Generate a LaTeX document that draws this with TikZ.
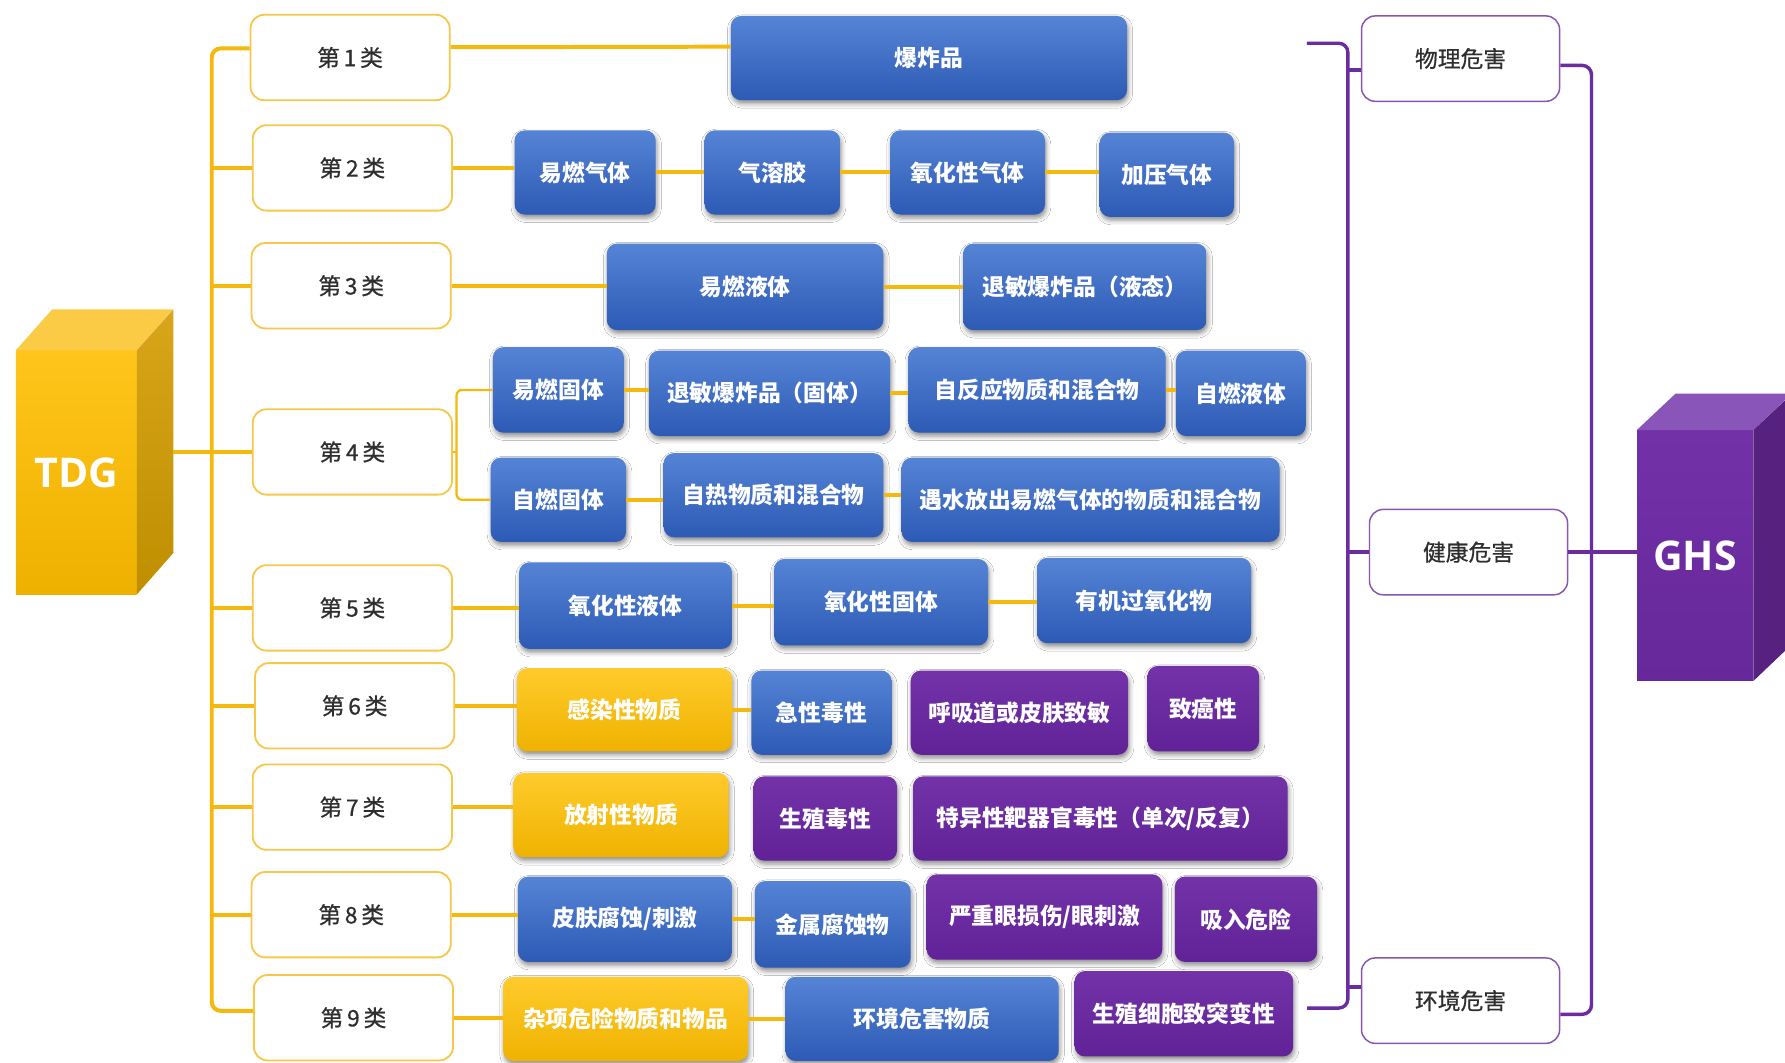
\documentclass[tikz,border=0pt]{standalone}
\usepackage{fontspec}
\setmainfont{Noto Sans CJK SC}
\newfontfamily\latinbold{Open Sans}
\newfontfamily\labelfont[FakeBold=0.6]{Noto Sans CJK SC}
\usetikzlibrary{shadows.blur,calc}

\definecolor{ylw}{HTML}{F5B80C}
\definecolor{ylwborder}{HTML}{F5C74A}
\definecolor{pur}{HTML}{6A2C9E}
\definecolor{bluetop}{HTML}{5584D6}
\definecolor{bluebot}{HTML}{2D5AB4}
\definecolor{yboxtop}{HTML}{FFCB2C}
\definecolor{yboxbot}{HTML}{EFB200}
\definecolor{pboxtop}{HTML}{7332A8}
\definecolor{pboxbot}{HTML}{612298}
\definecolor{txtgray}{HTML}{2E2E2E}
\definecolor{tdgtop}{HTML}{FBCB45}
\definecolor{tdgfronttop}{HTML}{FFC51A}
\definecolor{tdgfrontbot}{HTML}{EEB100}
\definecolor{tdgsidetop}{HTML}{D9A51A}
\definecolor{tdgsidebot}{HTML}{BF8F00}
\definecolor{ghstop}{HTML}{8A55B8}
\definecolor{ghsfronttop}{HTML}{7331A8}
\definecolor{ghsfrontbot}{HTML}{66289A}
\definecolor{ghsside}{HTML}{56217F}

\tikzset{
 box/.style={rounded corners=9pt, minimum height=74pt, text=white,
   font=\fontsize{20}{23}\selectfont\bfseries, inner sep=2pt,
   blur shadow={shadow xshift=1pt, shadow yshift=-3pt, shadow blur radius=4pt, shadow opacity=45}},
 bbox/.style={box, top color=bluetop, bottom color=bluebot},
 ybox/.style={box, top color=yboxtop, bottom color=yboxbot},
 pbox/.style={box, top color=pboxtop, bottom color=pboxbot},
 cat/.style={draw=ylwborder, line width=1.6pt, fill=white, rounded corners=12pt,
   minimum width=175pt, minimum height=75pt, text=txtgray, font=\labelfont\fontsize{20}{22}\selectfont},
 haz/.style={draw=pur!80, line width=1.3pt, fill=white, rounded corners=12pt,
   minimum width=174pt, minimum height=75pt, text=txtgray, font=\labelfont\fontsize{20}{22}\selectfont},
 yline/.style={draw=ylw, line width=3.5pt},
 pline/.style={draw=pur, line width=3pt},
 cube/.style={inner sep=0pt, text=white, font={\latinbold\bfseries\fontsize{36}{40}\selectfont}},
}

\begin{document}
\begin{tikzpicture}[x=1pt,y=-1pt]
\useasboundingbox[fill=white] (0,0) rectangle (1568,933);

% ---------- TDG cube ----------
\node[cube, minimum width=106pt, minimum height=214pt, top color=tdgfronttop, bottom color=tdgfrontbot] (tdg) at (67,415) {TDG};
\fill[tdgtop] (tdg.north west) -- ++(32,-36) -- ++(106,0) -- (tdg.north east) -- cycle;
\shade[top color=tdgsidetop, bottom color=tdgsidebot] (tdg.north east) -- ++(32,-36) -- ++(0,214) -- (tdg.south east) -- cycle;

% ---------- category boxes ----------
\node[cat] (c1) at (307.5,50.5) {第\,1\,类};
\node[cat] (c2) at (309.5,147.5) {第\,2\,类};
\node[cat] (c3) at (308.5,251) {第\,3\,类};
\node[cat] (c4) at (309.5,397) {第\,4\,类};
\node[cat] (c5) at (309.5,534) {第\,5\,类};
\node[cat] (c6) at (311.5,620) {第\,6\,类};
\node[cat] (c7) at (309.5,709) {第\,7\,类};
\node[cat] (c8) at (308.5,803.5) {第\,8\,类};
\node[cat] (c9) at (310.5,894) {第\,9\,类};

% ---------- content boxes ----------
\node[bbox, minimum width=348pt] (b1) at (816,51) {爆炸品};

\node[bbox, minimum width=124pt] (b21) at (514,151.5) {易燃气体};
\node[bbox, minimum width=119pt] (b22) at (678.5,151.5) {气溶胶};
\node[bbox, minimum width=136pt] (b23) at (850,151.5) {氧化性气体};
\node[bbox, minimum width=118pt] (b24) at (1025,153.5) {加压气体};

\node[bbox, minimum width=243pt, minimum height=76pt] (b31) at (654.5,252) {易燃液体};
\node[bbox, minimum width=214pt, minimum height=76pt] (b32) at (953,252) {退敏爆炸品（液态）};

\node[bbox, minimum width=115pt, minimum height=75pt] (b41) at (490.5,342.5) {易燃固体};
\node[bbox, minimum width=212pt, minimum height=75pt] (b42) at (676,345.5) {退敏爆炸品（固体）};
\node[bbox, minimum width=226pt, minimum height=75pt] (b43) at (911,342.5) {自反应物质和混合物};
\node[bbox, minimum width=114pt, minimum height=75pt] (b44) at (1090,345.5) {自燃液体};

\node[bbox, minimum width=119pt] (b45) at (490.5,439) {自燃固体};
\node[bbox, minimum width=193pt] (b46) at (679.5,435) {自热物质和混合物};
\node[bbox, minimum width=332pt] (b47) at (958,439) {遇水放出易燃气体的物质和混合物};

\node[bbox, minimum width=187pt, minimum height=76pt] (b51) at (549.5,532) {氧化性液体};
\node[bbox, minimum width=188pt, minimum height=76pt] (b52) at (774,529) {氧化性固体};
\node[bbox, minimum width=188pt, minimum height=75pt] (b53) at (1005,527.5) {有机过氧化物};

\node[ybox, minimum width=189pt, minimum height=73pt] (y61) at (548.5,623.5) {感染性物质};
\node[bbox, minimum width=123pt] (b62) at (721.5,626) {急性毒性};
\node[pbox, minimum width=191pt] (p63) at (895.5,626) {呼吸道或皮肤致敏};
\node[pbox, minimum width=98pt, minimum height=75pt] (p64) at (1057,622.5) {致癌性};

\node[ybox, minimum width=189pt] (y71) at (545.5,716) {放射性物质};
\node[pbox, minimum width=126pt] (p72) at (725,719) {生殖毒性};
\node[pbox, minimum width=329pt] (p73) at (966.5,719) {特异性靶器官毒性（单次/反复）};

\node[bbox, minimum width=188pt, minimum height=75pt] (b81) at (549,807.5) {皮肤腐蚀/刺激};
\node[bbox, minimum width=137pt, minimum height=76pt] (b82) at (731.5,812) {金属腐蚀物};
\node[pbox, minimum width=207pt, minimum height=75pt] (p83) at (917.5,805.5) {严重眼损伤/眼刺激};
\node[pbox, minimum width=125pt, minimum height=75pt] (p84) at (1094.5,807.5) {吸入危险};

\node[ybox, minimum width=215pt] (y91) at (549.5,895) {杂项危险物质和物品};
\node[bbox, minimum width=240pt] (b92) at (810,895) {环境危害物质};
\node[pbox, minimum width=192pt, minimum height=75pt] (p93) at (1040,890.5) {生殖细胞致突变性};

% ---------- yellow connectors ----------
\coordinate (trunk) at (186,400);
\draw[yline, rounded corners=8pt] ([yshift=8pt]c1.west) -| (trunk) |- ([yshift=6pt]c9.west);
\foreach \c in {c2,c3,c5,c6,c7,c8} \draw[yline] (trunk |- \c.west) -- (\c.west);
\coordinate (tdgR) at ([xshift=32pt]tdg.east);
\draw[yline] (tdgR |- c4.west) -- (c4.west);

\draw[yline] ([yshift=9pt]c1.east) -- ([yshift=10pt]b1.west);
\foreach \a/\b in {c2/b21,b21/b22,b22/b23,b23/b24,c3/b31,b31/b32,b41/b42,b42/b43,b43/b44,b45/b46,b46/b47,c5/b51,b51/b52,b52/b53,c6/y61,y61/b62,c7/y71,c8/b81,b81/b82,c9/y91,y91/b92}
  \draw[yline] (\a.east) -- (\a.east -| \b.west);

\coordinate (br) at (401,397);
\draw[yline, line width=2pt, rounded corners=5pt] (b41.west) -| (br) |- (b45.west);
\draw[yline, line width=2pt] (c4.east) -- (br);

% ---------- hazard boxes ----------
\node[haz] (phys) at (1283,51.5) {物理危害};
\node[haz] (health) at (1290,485) {健康危害};
\node[haz] (env) at (1283,879) {环境危害};

% ---------- GHS cube ----------
\node[cube, minimum width=102pt, minimum height=220pt, top color=ghsfronttop, bottom color=ghsfrontbot] (ghs) at (1489,488) {GHS};
\fill[ghstop] (ghs.north west) -- ++(34,-32) -- ++(102,0) -- (ghs.north east) -- cycle;
\fill[ghsside] (ghs.north east) -- ++(34,-32) -- ++(0,220) -- (ghs.south east) -- cycle;

% ---------- purple connectors ----------
\coordinate (ptop) at (1148,38);
\coordinate (pv) at (1184,460);
\coordinate (pr) at (1398,460);
\draw[pline, rounded corners=8pt] (ptop) -| (pv) |- ([xshift=12pt,yshift=5pt]p93.east);
\draw[pline] ([yshift=-10pt]phys.west) -- ([yshift=-10pt]phys.west -| pv);
\draw[pline] (health.west) -- (health.west -| pv);
\draw[pline] ([yshift=12pt]env.west) -- ([yshift=12pt]env.west -| pv);
\draw[pline, rounded corners=8pt] ([yshift=-6pt]phys.east) -| (pr) |- ([yshift=-12pt]env.east);
\draw[pline] (health.east) -- (health.east -| ghs.west);
\end{tikzpicture}
\end{document}
